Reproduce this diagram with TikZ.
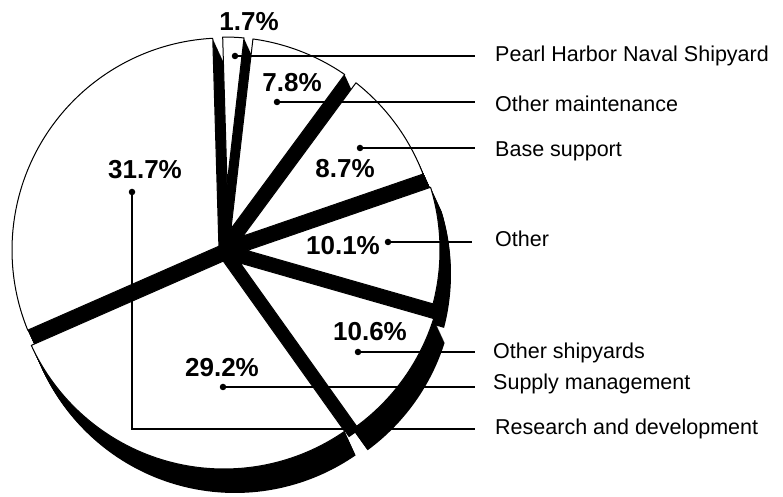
\documentclass[tikz,border=0pt]{standalone}
\usepackage{fontspec}
\setmainfont{Liberation Sans}
\newcommand\VX{11}
\newcommand\VY{-24}
\newcommand\slicegeom[5]{% a b ha hb r
  \pgfmathsetmacro\sx{(#3*cos(#2)+#4*cos(#1))/sin(#2-#1)}%
  \pgfmathsetmacro\sy{(#3*sin(#2)+#4*sin(#1))/sin(#2-#1)}%
  \pgfmathsetmacro\sa{#1+asin(#3/#5)}%
  \pgfmathsetmacro\sb{#2-asin(#4/#5)}%
  \def\sr{#5}}
\newcommand\sliceshadow[7]{%
  \slicegeom{#1}{#2}{#3}{#4}{#5}%
  \foreach \k in {0,...,24}{%
    \fill[black,shift={(224+#6+\k/24*\VX,247+#7+\k/24*\VY)}]
      (\sx,\sy) -- (\sa:\sr) arc[start angle=\sa,end angle=\sb,radius=\sr] -- cycle;
  }}
\newcommand\slicewhite[7]{%
  \slicegeom{#1}{#2}{#3}{#4}{#5}%
  \filldraw[slicebody,shift={(224+#6,247+#7)}]
    (\sx,\sy) -- (\sa:\sr) arc[start angle=\sa,end angle=\sb,radius=\sr] -- cycle;}
\begin{document}
\begin{tikzpicture}[x=1pt,y=1pt,
  slicebody/.style={fill=white,draw=black,line width=1pt,line join=round},
  gapband/.style={draw=black,line cap=butt},
  leader/.style={draw=black,line width=1.1pt},
  dotn/.style={circle,fill=black,inner sep=0pt,minimum size=6.5pt},
  pct/.style={inner sep=0pt,font=\bfseries\fontsize{26}{28}\selectfont},
  lab/.style={inner sep=0pt,anchor=base west,font=\fontsize{21.5}{24}\selectfont}]
\useasboundingbox (0,0) rectangle (783,497);
\coordinate (O) at (224,247);
% shadows (sides)
\sliceshadow{91.7}{203.7}{5}{5.5}{212}{0}{0}
\sliceshadow{83.4}{91.7}{4.5}{5}{213}{0}{0}
\sliceshadow{53.6}{83.4}{7}{4.5}{213}{0}{0}
\sliceshadow{19}{53.6}{7}{7}{213}{0}{0}
\sliceshadow{-16}{19}{5}{7}{213}{3}{0}
\sliceshadow{-54.5}{-16}{3}{5.5}{213}{6.5}{-4.6}
\sliceshadow{-156.3}{-54.5}{3.5}{3}{212}{0}{-7}
% dark gaps between the slices
\fill[black] (O) circle (15);
\draw[gapband,line width=11pt] (O) -- ++(91.7:170);
\draw[gapband,line width=10pt] (O) -- ++(83.4:170);
\draw[gapband,line width=15pt] (O) -- ++(53.6:190);
\draw[gapband,line width=15pt] (O) -- ++(19:195);
\draw[gapband,line width=17pt] (O) -- ++(-16:200);
\draw[gapband,line width=14pt] (O) -- ++(-54.5:225);
\draw[gapband,line width=17pt] (O) -- ++(203.7:195);
% tops
\slicewhite{91.7}{203.7}{5}{5.5}{212}{0}{0}
\slicewhite{83.4}{91.7}{4.5}{5}{213}{0}{0}
\slicewhite{53.6}{83.4}{7}{4.5}{213}{0}{0}
\slicewhite{19}{53.6}{7}{7}{213}{0}{0}
\slicewhite{-16}{19}{5}{7}{213}{3}{0}
\slicewhite{-54.5}{-16}{3}{5.5}{213}{6.5}{-4.6}
\slicewhite{-156.3}{-54.5}{3.5}{3}{212}{0}{-7}
% percentages
\node[pct] (p1) at (249,475) {1.7\%};
\node[pct] (p2) at (292,414) {7.8\%};
\node[pct] (p3) at (345,328) {8.7\%};
\node[pct] (p4) at (145,327) {31.7\%};
\node[pct] (p5) at (343,251) {10.1\%};
\node[pct] (p6) at (370,165) {10.6\%};
\node[pct] (p7) at (222,129) {29.2\%};
% dots
\node[dotn] (d1) at (235,441) {};
\node[dotn] (d2) at (277,395) {};
\node[dotn] (d3) at (360,349) {};
\node[dotn] (d4) at (388,255) {};
\node[dotn] (d5) at (358,145) {};
\node[dotn] (d6) at (223,110) {};
\node[dotn] (d7) at (132,305) {};
% leader ends
\coordinate (e1) at (475,441);
\coordinate (e2) at (475,395);
\coordinate (e3) at (475,349);
\coordinate (e4) at (472,255);
\coordinate (e5) at (475,145);
\coordinate (e6) at (475,110);
\coordinate (c7) at (132,68);
\coordinate (e7) at (475,68);
\draw[leader] (d1.center) -- (e1);
\draw[leader] (d2.center) -- (e2);
\draw[leader] (d3.center) -- (e3);
\draw[leader] (d4.center) -- (e4);
\draw[leader] (d5.center) -- (e5);
\draw[leader] (d6.center) -- (e6);
\draw[leader] (d7.center) -- (c7) -- (e7);
% labels
\node[lab] (t1) at (495,435.3) {Pearl Harbor Naval Shipyard};
\node[lab] (t2) at (495,385.3) {Other maintenance};
\node[lab] (t3) at (495,340.3) {Base support};
\node[lab] (t4) at (495,250.3) {Other};
\node[lab] (t5) at (493,138.7) {Other shipyards};
\node[lab] (t6) at (493,107.7) {Supply management};
\node[lab] (t7) at (495,62) {Research and development};
\end{tikzpicture}
\end{document}
